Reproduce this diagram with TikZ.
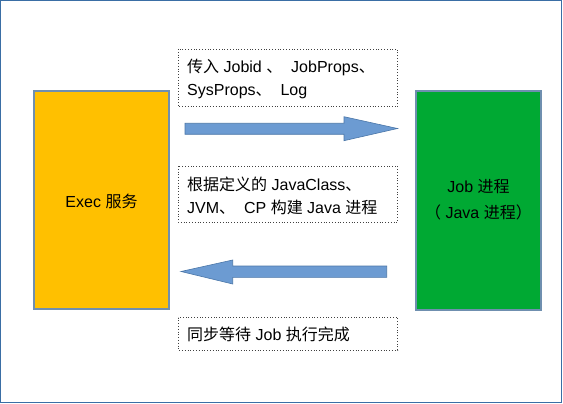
\documentclass[tikz,border=0pt]{standalone}
\usepackage{fontspec}
\setmainfont{Liberation Sans}
\newfontfamily\cjk{Noto Sans CJK SC}
\newcommand{\zh}[1]{{\cjk #1}}
\definecolor{frameblue}{HTML}{3A6EA5}
\definecolor{execyellow}{HTML}{FFC000}
\definecolor{jobgreen}{HTML}{00A933}
\definecolor{arrowfill}{HTML}{6C9BD2}
\definecolor{arrowedge}{HTML}{4A76A8}
\definecolor{boxedge}{HTML}{6F8FAF}
\begin{document}
\begin{tikzpicture}[x=1pt,y=-1pt,
  proc/.style={draw=boxedge, line width=1.2pt},
  note/.style={draw=black!75, dotted, line width=0.8pt},
  txt/.style={font=\fontsize{16}{23}\selectfont, align=left, anchor=west, inner sep=0pt},
  ctxt/.style={font=\fontsize{16}{26}\selectfont, align=center, inner sep=0pt},
  blockarrow/.style={fill=arrowfill, draw=arrowedge, line width=0.6pt}]
\useasboundingbox (0,0) rectangle (563,404);
\draw[frameblue, line width=1.2pt] (0.6,0.6) rectangle (561.5,402.4);
% process boxes
\draw[proc, fill=execyellow] (34,91) rectangle (169,309);
\node[ctxt] (exec) at (101.5,201) {Exec \zh{服务}};
\draw[proc, fill=jobgreen] (416,91) rectangle (541,310);
\node[ctxt] (job) at (478.5,200) {Job \zh{进程}\\\zh{（} Java \zh{进程）}};
% notes
\draw[note] (178,49) rectangle (397.5,106.5);
\node[txt] (n1) at (187,78.5) {\zh{传入} Jobid \zh{、}\ \ JobProps\zh{、}\\SysProps\zh{、}\ \ Log};
\draw[note] (178,166) rectangle (397.5,222);
\node[txt] (n2) at (187,195.5) {\zh{根据定义的} JavaClass\zh{、}\\JVM\zh{、}\ \ CP \zh{构建} Java \zh{进程}};
\draw[note] (178,317.5) rectangle (397.5,350);
\node[txt] (n3) at (187,334) {\zh{同步等待} Job \zh{执行完成}};
% block arrows
\draw[blockarrow] (185,123.3) -- (344,123.3) -- (344,116.7) -- (397.5,128.5)
  -- (344,140.7) -- (344,134.3) -- (185,134.3) -- cycle;
\draw[blockarrow] (386.7,266) -- (232.7,266) -- (232.7,260) -- (181,271.5)
  -- (232.7,284) -- (232.7,277.3) -- (386.7,277.3) -- cycle;
\end{tikzpicture}
\end{document}
